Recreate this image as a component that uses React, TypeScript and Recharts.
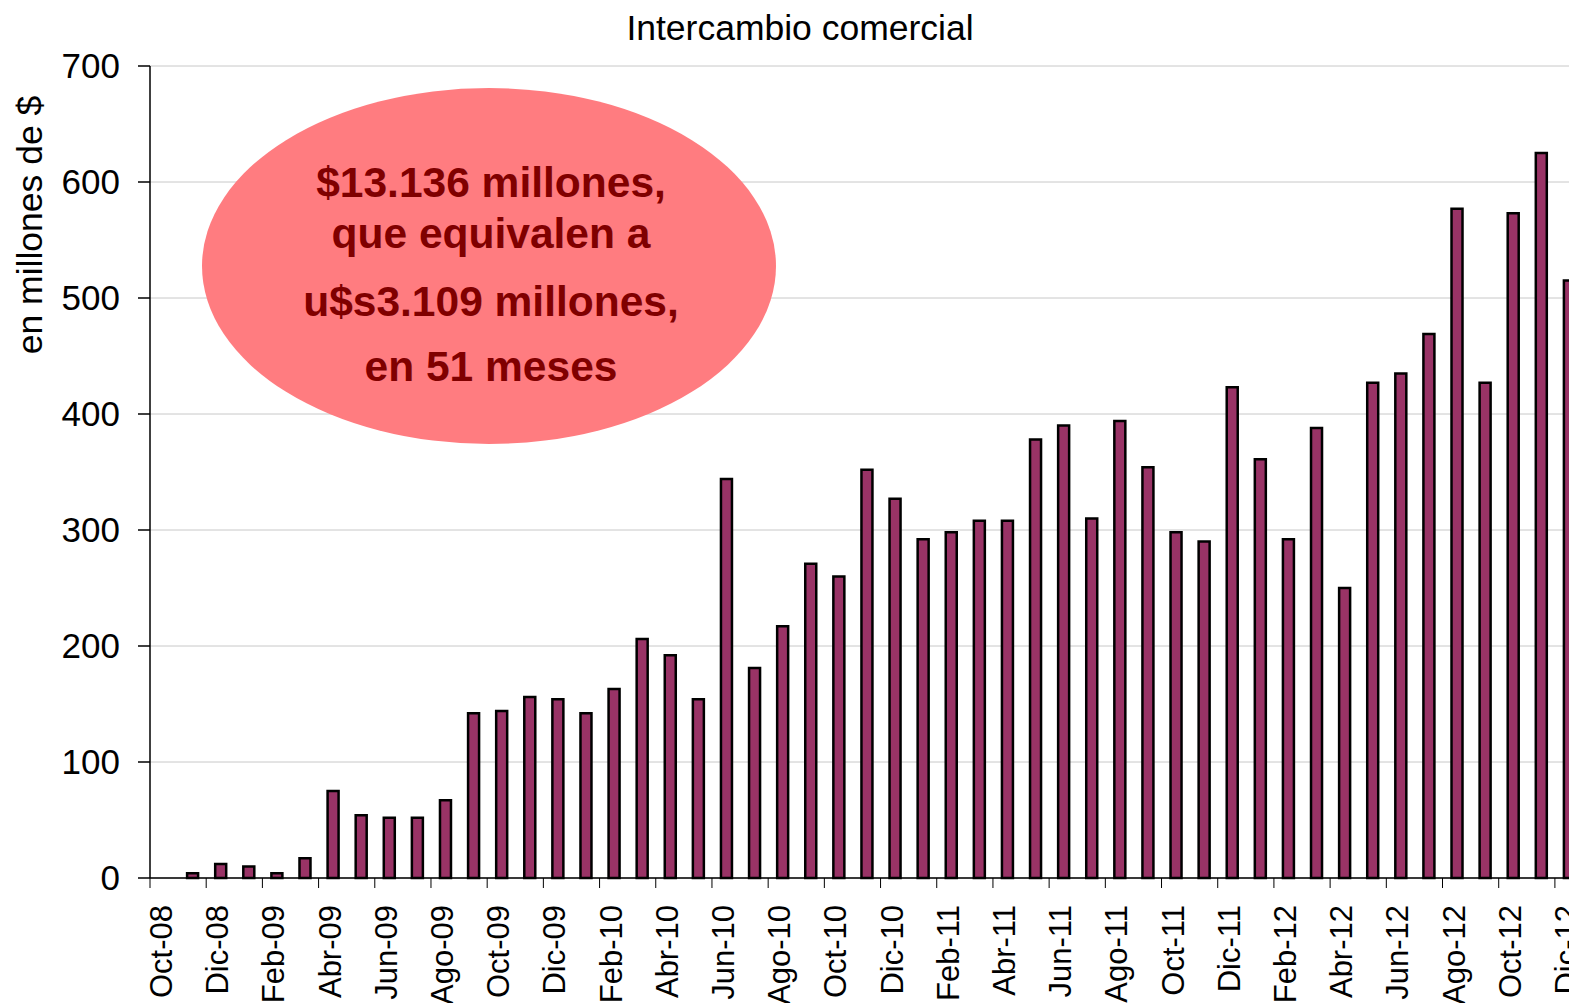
import React from 'react';
import { BarChart, Bar, XAxis, YAxis, CartesianGrid } from 'recharts';

const months = [
  'Oct-08', 'Nov-08', 'Dic-08',
  'Ene-09', 'Feb-09', 'Mar-09', 'Abr-09', 'May-09', 'Jun-09', 'Jul-09', 'Ago-09', 'Sep-09', 'Oct-09', 'Nov-09', 'Dic-09',
  'Ene-10', 'Feb-10', 'Mar-10', 'Abr-10', 'May-10', 'Jun-10', 'Jul-10', 'Ago-10', 'Sep-10', 'Oct-10', 'Nov-10', 'Dic-10',
  'Ene-11', 'Feb-11', 'Mar-11', 'Abr-11', 'May-11', 'Jun-11', 'Jul-11', 'Ago-11', 'Sep-11', 'Oct-11', 'Nov-11', 'Dic-11',
  'Ene-12', 'Feb-12', 'Mar-12', 'Abr-12', 'May-12', 'Jun-12', 'Jul-12', 'Ago-12', 'Sep-12', 'Oct-12', 'Nov-12', 'Dic-12',
];

// millones de $ por mes (Oct-08 sin dato)
const intercambio = [
  null, 4, 12,
  10, 4, 17, 75, 54, 52, 52, 67, 142, 144, 156, 154,
  142, 163, 206, 192, 154, 344, 181, 217, 271, 260, 352, 327,
  292, 298, 308, 308, 378, 390, 310, 394, 354, 298, 290, 423,
  361, 292, 388, 250, 427, 435, 469, 577, 427, 573, 625, 515,
];

const yTicks = [0, 100, 200, 300, 400, 500, 600, 700];

const calloutLines = ['$13.136 millones,', 'que equivalen a', 'u$s3.109 millones,', 'en 51 meses'];

const FONT = '"Liberation Sans", Arial, sans-serif';
const CHART_W = 1583;
const CHART_H = 1003;
const PLOT_LEFT = 150;
const BAND = (CHART_W - PLOT_LEFT) / months.length;

const chartData = months.map((m, i) => ({ mes: m, valor: intercambio[i] }));

const MonthTick = (props: any) => {
  const { x, y, payload } = props;
  const half = BAND / 2;
  return (
    <g transform={`translate(${x},${y})`}>
      <line x1={-half} x2={-half} y1={0} y2={10} stroke="#000" strokeWidth={1} />
      <text
        transform="rotate(-90)"
        x={-27}
        y={8}
        textAnchor="end"
        fontSize={31}
        fontFamily={FONT}
        fill="#000"
      >
        {payload.value}
      </text>
    </g>
  );
};

const App: React.FC = () => {
  return (
    <div
      style={{
        position: 'absolute',
        left: 0,
        top: 0,
        width: 1569,
        height: 1003,
        overflow: 'hidden',
        background: '#fff',
        fontFamily: FONT,
      }}
    >
      <BarChart
        width={CHART_W}
        height={CHART_H}
        data={chartData}
        margin={{ top: 66, right: 0, left: 90, bottom: 0 }}
      >
        <CartesianGrid vertical={false} stroke="#C8C8C8" strokeWidth={1} />
        <XAxis
          dataKey="mes"
          interval={1}
          height={125}
          tickSize={0}
          tickMargin={0}
          tickLine={false}
          axisLine={{ stroke: '#000', strokeWidth: 1.5 }}
          tick={<MonthTick />}
        />
        <YAxis
          width={60}
          domain={[0, 700]}
          ticks={yTicks}
          interval={0}
          tickSize={12}
          tickMargin={18}
          axisLine={{ stroke: '#000', strokeWidth: 1.5 }}
          tickLine={{ stroke: '#000', strokeWidth: 1.5 }}
          tick={{ fill: '#000', fontSize: 35, fontFamily: FONT }}
        />
        <Bar
          dataKey="valor"
          fill="#993366"
          stroke="#000"
          strokeWidth={2.5}
          barSize={11}
          isAnimationActive={false}
        />
      </BarChart>
      <svg
        width={1569}
        height={1003}
        style={{ position: 'absolute', left: 0, top: 0, pointerEvents: 'none' }}
      >
        <text x={800} y={40} textAnchor="middle" fontSize={35.5} fontFamily={FONT} fill="#000">
          Intercambio comercial
        </text>
        <text
          transform="translate(42,225) rotate(-90)"
          textAnchor="middle"
          fontSize={35.5}
          fontFamily={FONT}
          fill="#000"
        >
          en millones de $
        </text>
        <ellipse cx={489} cy={266} rx={287} ry={178} fill="#FF7C80" />
        {calloutLines.map((line, i) => (
          <text
            key={line}
            x={491}
            y={[197, 248, 316, 381][i]}
            textAnchor="middle"
            fontSize={42.5}
            fontWeight="bold"
            fontFamily={FONT}
            fill="#800000"
          >
            {line}
          </text>
        ))}
      </svg>
    </div>
  );
};

export default App;
